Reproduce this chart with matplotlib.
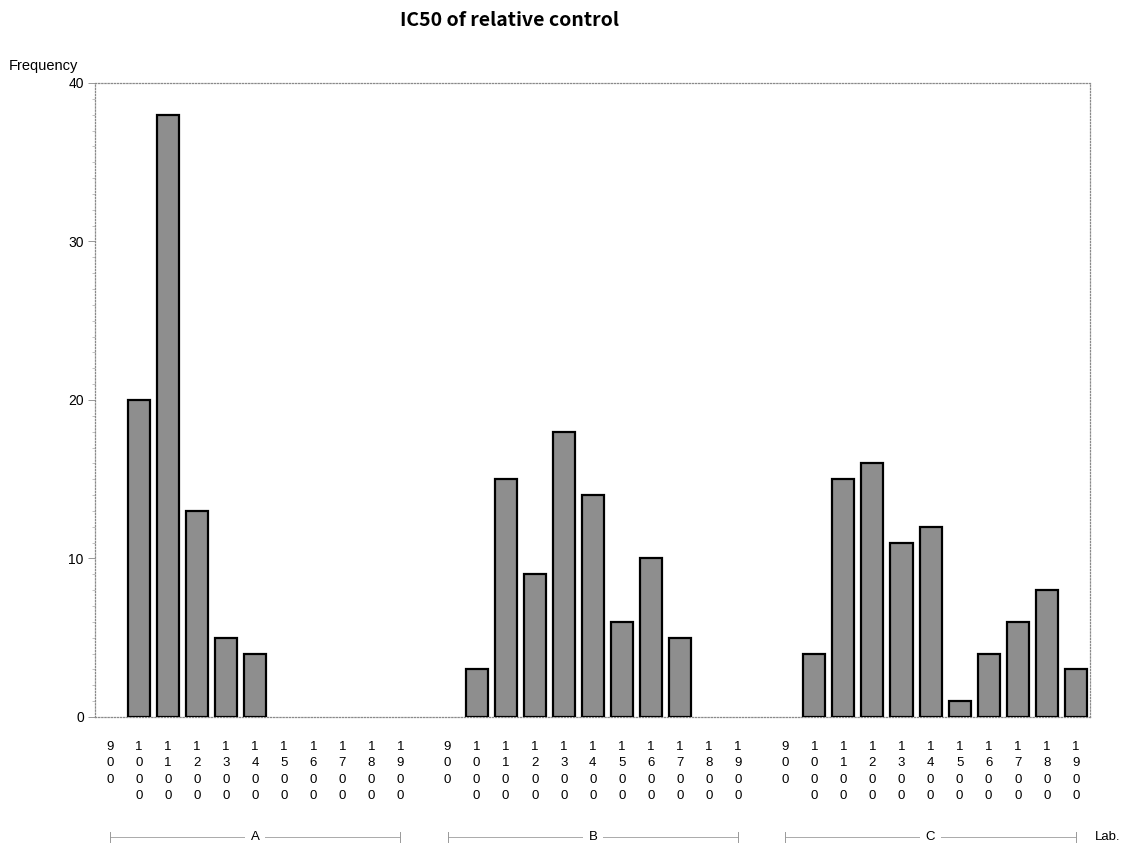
import numpy as np
import matplotlib.pyplot as plt
from matplotlib.ticker import MultipleLocator
import matplotlib.transforms as mtransforms

# values
doses = ["900", "1000", "1100", "1200", "1300", "1400", "1500", "1600", "1700", "1800", "1900"]
groups = ["A", "B", "C"]
freq_a = [0, 20, 38, 13, 5, 4, 0, 0, 0, 0, 0]
freq_b = [0, 3, 15, 9, 18, 14, 6, 10, 5, 0, 0]
freq_c = [0, 4, 15, 16, 11, 12, 1, 4, 6, 8, 3]

plt.rcParams['font.family'] = ['Liberation Sans', 'DejaVu Sans']

fig = plt.figure(figsize=(11.32, 8.52), dpi=100)
ax = fig.add_axes([0.0839, 0.1585, 0.8791, 0.7441])

gap = 1.62
n = len(doses)
all_x = []
all_y = []
all_lab = []
group_pos = []
for g, vals in enumerate([freq_a, freq_b, freq_c]):
    start = g * (n - 1 + gap)
    xs = start + np.arange(n)
    all_x.extend(xs)
    all_y.extend(vals)
    all_lab.extend(["\n".join(d) for d in doses])
    group_pos.append((xs[0], xs[-1]))

lw = [1.6 if v > 0 else 0 for v in all_y]
ax.bar(all_x, all_y, width=0.76, color="#8e8e8e", edgecolor="black", linewidth=lw, zorder=3)

ax.set_xlim(-0.51, all_x[-1] + 0.49)
ax.set_ylim(0, 40)
ax.set_xticks(all_x)
ax.set_xticklabels(all_lab, fontsize=9.5, linespacing=1.5)
ax.tick_params(axis='x', length=0, pad=17)
ax.set_yticks([0, 10, 20, 30, 40])
ax.yaxis.set_minor_locator(MultipleLocator(1))
ax.tick_params(axis='y', which='major', length=5, width=0.6, color="#888888", labelsize=10, pad=3)
ax.tick_params(axis='y', which='minor', length=2.5, width=0.5, color="#aaaaaa")

for sp in ax.spines.values():
    sp.set_linestyle((0, (1, 1.5)))
    sp.set_color("#8a8a8a")
    sp.set_linewidth(0.9)

# group bars below the tick labels
trans = mtransforms.blended_transform_factory(ax.transData, fig.transFigure)
yline = 1 - 837 / 852
for name, (x0, x1) in zip(groups, group_pos):
    ax.plot([x0, x1], [yline, yline], color="#aaaaaa", lw=0.7, transform=trans, clip_on=False)
    for xe in (x0, x1):
        ax.plot([xe, xe], [yline - 0.006, yline + 0.006], color="#999999", lw=0.7,
                transform=trans, clip_on=False)
    ax.text((x0 + x1) / 2, yline, name, transform=trans, ha="center", va="center", fontsize=9.5,
            bbox=dict(facecolor="white", edgecolor="none", pad=4))

fig.text(1095 / 1132, yline, "Lab.", ha="left", va="center", fontsize=9.5)
fig.text(9 / 1132, 1 - 66 / 852, "Frequency", ha="left", va="center", fontsize=10.5)
fig.suptitle("IC50 of relative control", x=509 / 1132, y=1 - 21 / 852, va="center",
             fontsize=14, fontweight="bold", family=["Noto Sans CJK JP", "DejaVu Sans"])

fig.savefig("out.png", dpi=100)
